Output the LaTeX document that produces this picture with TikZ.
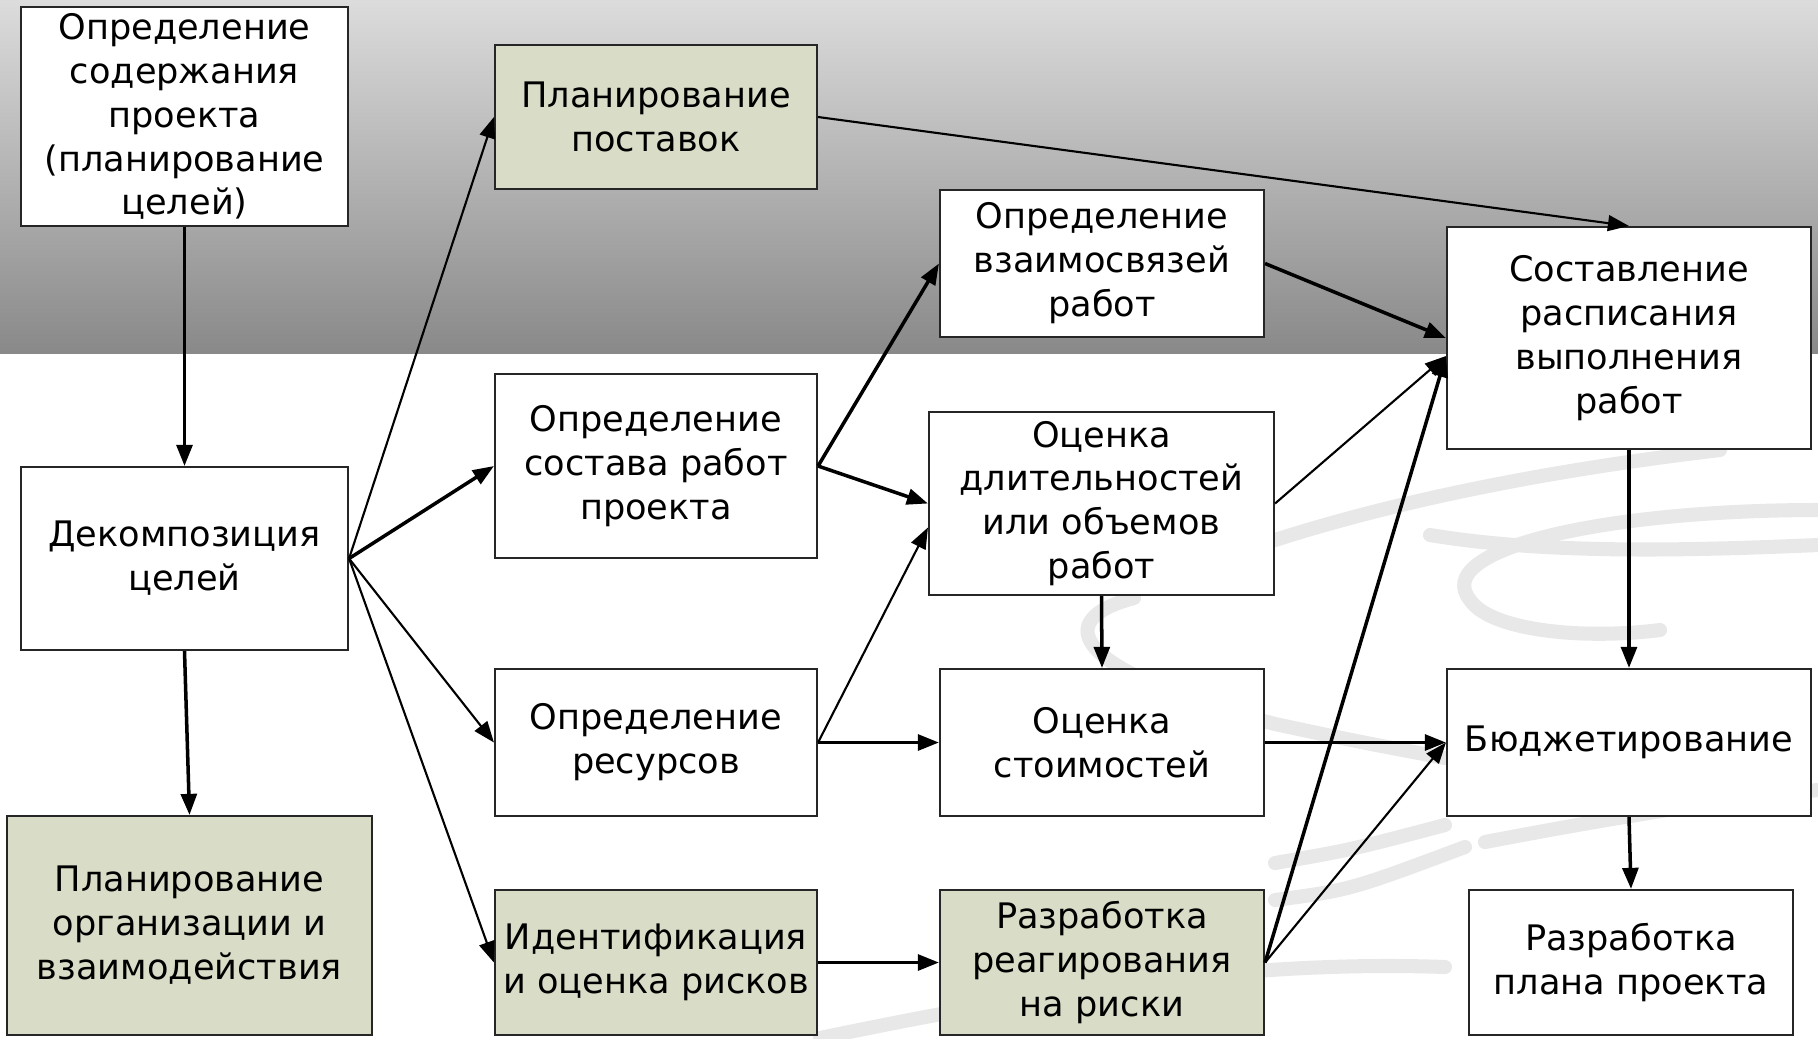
\documentclass[tikz,border=0pt]{standalone}
\usepackage{fontspec}
\setmainfont{DejaVu Sans}
\usetikzlibrary{arrows.meta}
\definecolor{taskgreen}{RGB}{217,220,198}
\definecolor{bandtop}{RGB}{220,220,220}
\definecolor{bandbottom}{RGB}{137,137,137}
\definecolor{swirlgray}{RGB}{232,232,232}

\begin{document}
\begin{tikzpicture}[
    every node/.style={font=\fontsize{10}{12.5}\selectfont},
    task/.style={draw=black!85, line width=0.6pt, fill=white, align=center, inner sep=0pt},
    gtask/.style={task, fill=taskgreen},
    arr/.style={-{Triangle[length=6pt,width=4.5pt]}, line width=1pt},
    tarr/.style={-{Triangle[length=6pt,width=4.5pt]}, line width=0.6pt},
    swirl/.style={swirlgray, line width=4pt, line cap=round}]
    \def\W{18.18}
    \def\H{10.38}

    % ── Background: grey band and faint swirls ───────────────────────────────
    \useasboundingbox (0,0) rectangle (\W,-\H);
    \fill[white] (0,0) rectangle (\W,-\H);
    \shade[top color=bandtop, bottom color=bandbottom] (0,0) rectangle (\W,-3.53);
    \draw[swirl] (12.75,-5.40) .. controls (14.0,-5.0) and (15.5,-4.7) .. (17.2,-4.5);
    \draw[swirl] (14.3,-5.35) .. controls (15.5,-5.55) and (17.0,-5.5) .. (\W,-5.45);
    \draw[swirl] (\W,-5.1) .. controls (16.0,-5.1) and (14.3,-5.5) .. (14.7,-6.0)
      .. controls (14.9,-6.3) and (15.8,-6.4) .. (16.6,-6.3);
    \draw[swirl] (11.34,-5.98) .. controls (10.5,-6.2) and (10.7,-6.7) .. (12.75,-7.24)
      .. controls (13.5,-7.4) .. (14.45,-7.58);
    \draw[swirl] (12.75,-8.63) .. controls (13.5,-8.5) .. (14.45,-8.25);
    \draw[swirl] (14.85,-8.42) .. controls (16.0,-8.2) and (17.2,-8.0) .. (\W,-7.9);
    \draw[swirl] (8.2,-10.38) .. controls (10.5,-9.9) and (12.5,-9.6) .. (14.45,-9.67);
    \draw[swirl] (12.75,-9.0) .. controls (13.5,-8.9) .. (14.65,-8.47);

    % ── Column 1 ─────────────────────────────────────────────────────────────
    \node[task, minimum width=3.27cm, minimum height=2.19cm] (scope) at (1.845,-1.165)
      {Определение\\содержания\\проекта\\(планирование\\целей)};
    \node[task, minimum width=3.27cm, minimum height=1.83cm] (decomp) at (1.845,-5.585)
      {Декомпозиция\\целей};
    \node[gtask, minimum width=3.65cm, minimum height=2.19cm] (orgplan) at (1.895,-9.255)
      {Планирование\\организации и\\взаимодействия};

    % ── Column 2 ─────────────────────────────────────────────────────────────
    \node[gtask, minimum width=3.22cm, minimum height=1.44cm] (supply) at (6.56,-1.17)
      {Планирование\\поставок};
    \node[task, minimum width=3.22cm, minimum height=1.84cm] (worklist) at (6.56,-4.66)
      {Определение\\состава работ\\проекта};
    \node[task, minimum width=3.22cm, minimum height=1.47cm] (resources) at (6.56,-7.425)
      {Определение\\ресурсов};
    \node[gtask, minimum width=3.22cm, minimum height=1.45cm] (risks) at (6.56,-9.625)
      {Идентификация\\и оценка рисков};

    % ── Column 3 ─────────────────────────────────────────────────────────────
    \node[task, minimum width=3.24cm, minimum height=1.47cm] (links) at (11.02,-2.635)
      {Определение\\взаимосвязей\\работ};
    \node[task, minimum width=3.45cm, minimum height=1.83cm] (durations) at (11.015,-5.035)
      {Оценка\\длительностей\\или объемов\\работ};
    \node[task, minimum width=3.24cm, minimum height=1.47cm] (costs) at (11.02,-7.425)
      {Оценка\\стоимостей};
    \node[gtask, minimum width=3.24cm, minimum height=1.45cm] (response) at (11.02,-9.625)
      {Разработка\\реагирования\\на риски};

    % ── Column 4 ─────────────────────────────────────────────────────────────
    \node[task, minimum width=3.64cm, minimum height=2.22cm] (schedule) at (16.29,-3.38)
      {Составление\\расписания\\выполнения\\работ};
    \node[task, minimum width=3.64cm, minimum height=1.47cm] (budget) at (16.29,-7.425)
      {Бюджетирование};
    \node[task, minimum width=3.24cm, minimum height=1.45cm] (plan) at (16.31,-9.625)
      {Разработка\\плана проекта};

    % ── Connectors ───────────────────────────────────────────────────────────
    \draw[arr] (scope.south) -- (decomp.north);
    \draw[arr] (decomp.south) -- (orgplan.north);
    \draw[tarr] (decomp.east) -- (supply.west);
    \draw[arr] (decomp.east) -- (worklist.west);
    \draw[tarr] (decomp.east) -- (resources.west);
    \draw[tarr] (decomp.east) -- (risks.west);
    \draw[tarr] (supply.east) -- (schedule.north);
    \draw[arr] (worklist.east) -- (links.west);
    \draw[arr] (worklist.east) -- (durations.west);
    \draw[tarr] (resources.east) -- ([yshift=-0.24cm]durations.west);
    \draw[arr] (resources.east) -- (costs.west);
    \draw[arr] (risks.east) -- (response.west);
    \draw[arr] (links.east) -- (schedule.west);
    \draw[tarr] (durations.east) -- ([yshift=-0.18cm]schedule.west);
    \draw[arr] (durations.south) -- (costs.north);
    \draw[arr] (costs.east) -- (budget.west);
    \draw[arr] (response.east) -- ([yshift=-0.18cm]schedule.west);
    \draw[tarr] (response.east) -- (budget.west);
    \draw[arr] (schedule.south) -- (budget.north);
    \draw[arr] (budget.south) -- (plan.north);
  \end{tikzpicture}
\end{document}
